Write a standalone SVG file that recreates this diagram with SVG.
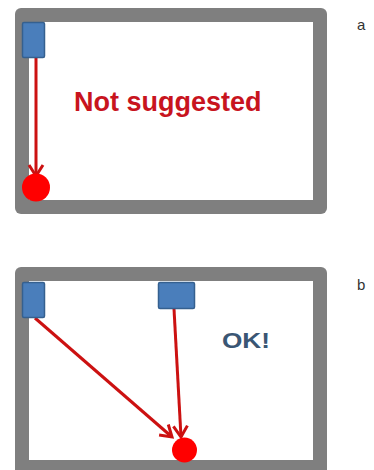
<svg xmlns="http://www.w3.org/2000/svg" width="374" height="470" viewBox="0 0 374 470">
<style>
.frame{fill:#7f7f7f}
.inner{fill:#ffffff}
.dev{fill:#4a7ebb;stroke:#35608f;stroke-width:1.5}
.tgt{fill:#ff0000}
.arr{stroke:#cc1111;stroke-width:3;fill:none}
.lbl{font-family:"Liberation Sans",Arial,sans-serif;font-size:15px;fill:#333}
</style>
<defs>
<marker id="ah" markerUnits="userSpaceOnUse" markerWidth="20" markerHeight="20" refX="14" refY="10" orient="auto">
<path d="M3,3 L14,10 L3,17" fill="none" stroke="#cc1111" stroke-width="3"/>
</marker>
</defs>
<rect width="374" height="470" fill="#ffffff"/>
<g id="panel-a">
<rect class="frame" x="15" y="8" width="312" height="206" rx="6"/>
<rect class="inner" x="29" y="22" width="284" height="178"/>
<text x="74" y="111" font-family="Liberation Sans, Arial, sans-serif" font-weight="bold" font-size="27" fill="#c8141e">Not suggested</text>
<text class="lbl" x="357" y="30">a</text>
</g>
<g id="panel-b">
<rect class="frame" x="15" y="267" width="312" height="212" rx="6"/>
<rect class="inner" x="29" y="281" width="284" height="179"/>
<text x="222" y="348" font-family="Liberation Sans, Arial, sans-serif" font-weight="bold" font-size="22" fill="#3a5674" textLength="48" lengthAdjust="spacingAndGlyphs">OK!</text>
<text class="lbl" x="357" y="290">b</text>
</g>
<g id="connectors">
<line class="arr" x1="36" y1="58" x2="36" y2="176" marker-end="url(#ah)"/>
<line class="arr" x1="35" y1="318" x2="172" y2="437" marker-end="url(#ah)"/>
<line class="arr" x1="174" y1="309" x2="181" y2="437" marker-end="url(#ah)"/>
</g>
<g id="node-a-source"><rect class="dev" x="22.5" y="22.5" width="22" height="35" rx="1.5"/></g>
<g id="node-a-target"><circle class="tgt" cx="36" cy="187.5" r="14"/></g>
<g id="node-b-source1"><rect class="dev" x="22.5" y="282.5" width="22" height="35" rx="1.5"/></g>
<g id="node-b-source2"><rect class="dev" x="158.5" y="282.5" width="36" height="26" rx="1.5"/></g>
<g id="node-b-target"><circle class="tgt" cx="184.5" cy="450" r="12.5"/></g>
</svg>
